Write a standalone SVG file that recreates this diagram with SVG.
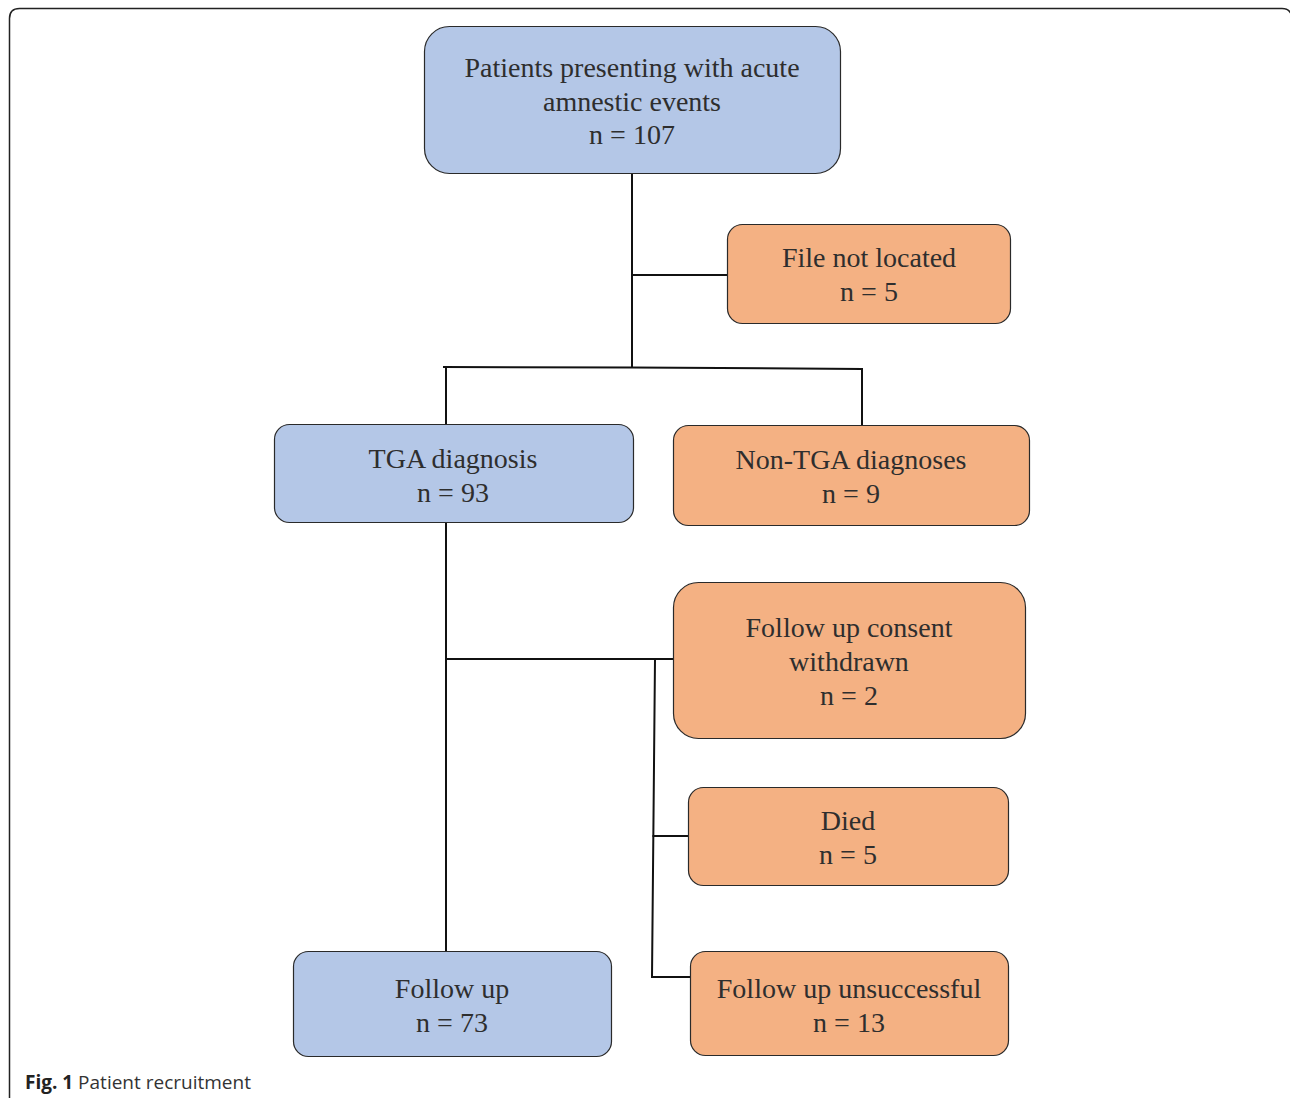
<svg xmlns="http://www.w3.org/2000/svg" width="1290" height="1098" viewBox="0 0 1290 1098">
<style>
.blue{fill:#B4C7E7;stroke:#2a2a2a;stroke-width:1.2}
.orange{fill:#F4B183;stroke:#2a2a2a;stroke-width:1.2}
.t{font-family:"Liberation Serif","Times New Roman",serif;font-size:28px;fill:#2e2e2e;text-anchor:middle}
.c{fill:none;stroke:#111;stroke-width:2}
.cap{font-family:"Open Sans","Noto Sans",sans-serif;font-size:19px;fill:#333}
</style>
<rect width="1290" height="1098" fill="#fff"/>
<path d="M9.5 1098 V18.5 Q9.5 8.5 19.5 8.5 H1282 Q1289 8.5 1291 14" fill="none" stroke="#222" stroke-width="1.5"/>
<g id="connectors">
<path class="c" d="M632 173 V367"/>
<path class="c" d="M632 275 H727"/>
<path class="c" d="M443 367 L632 367.5 L862 369 V425"/>
<path class="c" d="M446 367 V425"/>
<path class="c" d="M446 523 V951"/>
<path class="c" d="M446 659 H673"/>
<path class="c" d="M655 659 L652 977 H690"/>
<path class="c" d="M652.5 836 H688"/>
</g>
<g id="n1"><rect class="blue" x="424.5" y="26.5" width="416" height="147" rx="25"/>
<text class="t" x="632" y="77">Patients presenting with acute</text>
<text class="t" x="632" y="111">amnestic events</text>
<text class="t" x="632" y="144">n = 107</text></g>
<g id="n2"><rect class="orange" x="727.5" y="224.5" width="283" height="99" rx="15"/>
<text class="t" x="869" y="267">File not located</text>
<text class="t" x="869" y="301">n = 5</text></g>
<g id="n3"><rect class="blue" x="274.5" y="424.5" width="359" height="98" rx="15"/>
<text class="t" x="453" y="468">TGA diagnosis</text>
<text class="t" x="453" y="502">n = 93</text></g>
<g id="n4"><rect class="orange" x="673.5" y="425.5" width="356" height="100" rx="15"/>
<text class="t" x="851" y="469">Non-TGA diagnoses</text>
<text class="t" x="851" y="503">n = 9</text></g>
<g id="n5"><rect class="orange" x="673.5" y="582.5" width="352" height="156" rx="25"/>
<text class="t" x="849" y="637">Follow up consent</text>
<text class="t" x="849" y="671">withdrawn</text>
<text class="t" x="849" y="705">n = 2</text></g>
<g id="n6"><rect class="orange" x="688.5" y="787.5" width="320" height="98" rx="15"/>
<text class="t" x="848" y="830">Died</text>
<text class="t" x="848" y="864">n = 5</text></g>
<g id="n7"><rect class="blue" x="293.5" y="951.5" width="318" height="105" rx="15"/>
<text class="t" x="452" y="998">Follow up</text>
<text class="t" x="452" y="1032">n = 73</text></g>
<g id="n8"><rect class="orange" x="690.5" y="951.5" width="318" height="104" rx="15"/>
<text class="t" x="849" y="998">Follow up unsuccessful</text>
<text class="t" x="849" y="1032">n = 13</text></g>
<text class="cap" x="25" y="1089"><tspan font-weight="bold" fill="#222">Fig. 1</tspan> Patient recruitment</text>
</svg>
